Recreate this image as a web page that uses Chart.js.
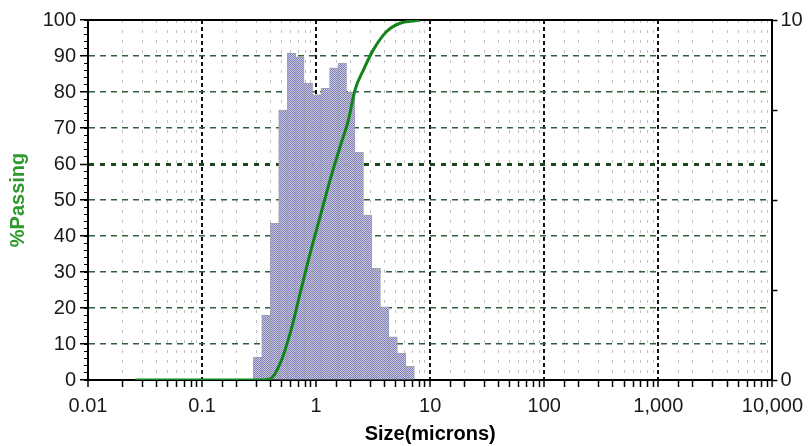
<!DOCTYPE html>
<html>
<head>
<meta charset="utf-8">
<script src="https://cdn.jsdelivr.net/npm/chart.js@4.4.1/dist/chart.umd.min.js"></script>
<style>
  html, body { margin: 0; padding: 0; background: #ffffff; }
  #wrap { width: 810px; height: 446px; }
</style>
</head>
<body>
<div id="wrap"><canvas id="c" width="810" height="446"></canvas></div>
<script>
// ---- data ----
// histogram bin centres (microns) and channel percent (right axis, 0-10)
const binSize = [0.306, 0.363, 0.431, 0.511, 0.607, 0.720, 0.855, 1.014, 1.204, 1.428,
                 1.695, 2.012, 2.387, 2.833, 3.362, 3.989, 4.734, 5.618, 6.667];
const channelPct = [0.64, 1.80, 4.36, 7.50, 9.08, 8.98, 8.25, 7.93, 8.10, 8.67,
                    8.80, 8.00, 6.33, 4.58, 3.10, 2.03, 1.20, 0.74, 0.38];
// cumulative % passing curve
const curveSize = [0.026, 0.1, 0.3, 0.396, 0.484, 0.592, 0.724, 0.886, 1.084, 1.326,
                   1.622, 1.918, 2.193, 2.594, 3.17, 4.15, 5.43, 7.35, 8.1];
const curvePassing = [0, 0, 0, 0.3, 4.6, 13.0, 24.1, 35.2, 45.4, 55.6,
                      64.8, 72.2, 80.6, 86.1, 91.7, 96.8, 99.1, 99.8, 100];
// axis tick settings
const xMin = 0.01, xMax = 10000;
const yLeftMax = 100, yLeftStep = 10, yLeftMinorStep = 2;
const yRightMax = 10, yRightStep = 2.5;
const rightLabels = [0, 10];

// ---- helpers ----
function isDecade(v) {
  if (!(v > 0)) return false;
  const l = Math.log10(v);
  return Math.abs(l - Math.round(l)) < 1e-6;
}
function fmtX(v) {
  if (!isDecade(v)) return '';
  return v >= 1000 ? Math.round(v).toLocaleString('en-US') : String(v);
}
function tickVal(ctx) { return ctx && ctx.tick ? ctx.tick.value : null; }

// checkered fill like the reference bars
const pc = document.createElement('canvas');
pc.width = 2; pc.height = 2;
const pctx = pc.getContext('2d');
pctx.fillStyle = '#cacadc'; pctx.fillRect(0, 0, 2, 2);
pctx.fillStyle = '#7e7ebc'; pctx.fillRect(0, 0, 1, 1); pctx.fillRect(1, 1, 1, 1);
const barPattern = pctx.createPattern(pc, 'repeat');

const FONT = 'Liberation Sans, Arial, sans-serif';

new Chart(document.getElementById('c'), {
  type: 'bar',
  data: {
    datasets: [
      {
        type: 'line',
        label: '% Passing',
        data: curveSize.map((s, i) => ({ x: s, y: curvePassing[i] })),
        xAxisID: 'x',
        yAxisID: 'y',
        borderColor: '#12841a',
        borderWidth: 3,
        pointRadius: 0,
        cubicInterpolationMode: 'monotone',
        fill: false,
        order: 0
      },
      {
        type: 'bar',
        label: 'Channel %',
        data: binSize.map((s, i) => ({ x: s, y: channelPct[i] })),
        xAxisID: 'x',
        yAxisID: 'y2',
        backgroundColor: barPattern,
        borderColor: '#a0a0b4',
        borderWidth: 1,
        borderSkipped: 'bottom',
        barThickness: 'flex',
        barPercentage: 1,
        categoryPercentage: 1,
        order: 1
      }
    ]
  },
  options: {
    responsive: false,
    maintainAspectRatio: false,
    devicePixelRatio: 1,
    animation: false,
    layout: { padding: { top: 20, left: 0, right: 0, bottom: 0 } },
    plugins: { legend: { display: false }, tooltip: { enabled: false } },
    scales: {
      x: {
        type: 'logarithmic',
        position: 'bottom',
        min: xMin,
        max: xMax,
        offset: false,
        afterFit: s => { s.height = 66; },
        ticks: {
          autoSkip: false,
          maxRotation: 0,
          callback: v => fmtX(v),
          font: { family: FONT, size: 20 },
          color: '#1a1a1a',
          padding: 7
        },
        grid: {
          offset: false,
          color: ctx => {
            const v = tickVal(ctx);
            if (v === null) return '#000';
            if (Math.abs(v - xMin) < 1e-9 || Math.abs(v - xMax) < 1e-6) return 'rgba(0,0,0,0)';
            return isDecade(v) ? '#111111' : 'rgba(150,150,150,0.6)';
          },
          lineWidth: ctx => (isDecade(tickVal(ctx)) ? 2 : 1),
          tickColor: '#000',
          tickWidth: 1.5,
          tickLength: 7
        },
        border: {
          color: '#000',
          width: 2,
          dash: ctx => {
            const v = tickVal(ctx);
            if (v === null) return [];
            return isDecade(v) ? [4, 3] : [3, 7];
          }
        },
        title: {
          display: true,
          text: 'Size(microns)',
          color: '#000',
          font: { family: FONT, size: 20, weight: 'bold' },
          padding: { top: 0, bottom: 0 }
        }
      },
      xTop: {
        type: 'linear',
        position: 'top',
        display: true,
        afterFit: s => { s.height = 0; },
        ticks: { display: false },
        grid: { drawOnChartArea: false, drawTicks: false },
        border: { color: '#000', width: 2 }
      },
      y: {
        position: 'left',
        weight: 1,
        min: 0,
        max: yLeftMax,
        afterFit: s => { s.width = 88; },
        ticks: {
          stepSize: yLeftStep,
          font: { family: FONT, size: 20 },
          color: '#1a1a1a',
          padding: 4
        },
        grid: {
          color: ctx => {
            const v = tickVal(ctx);
            if (v === null) return '#000';
            if (v === 0 || v === yLeftMax) return 'rgba(0,0,0,0)';
            return v === 60 ? '#1b471b' : '#335f3e';
          },
          lineWidth: ctx => (tickVal(ctx) === 60 ? 3 : 1.5),
          tickColor: '#000',
          tickWidth: 1.5,
          tickLength: 8
        },
        border: {
          color: '#000',
          width: 2,
          dash: ctx => {
            const v = tickVal(ctx);
            if (v === null) return [];
            return v === 60 ? [5, 6] : [6, 5];
          }
        },
        title: {
          display: true,
          text: '%Passing',
          color: '#2e9a2e',
          font: { family: FONT, size: 20, weight: 'bold' },
          padding: { top: 6, bottom: 0 }
        }
      },
      yMinor: {
        position: 'left',
        weight: 0,
        min: 0,
        max: yLeftMax,
        afterFit: s => { s.width = 0; },
        ticks: { stepSize: yLeftMinorStep, display: false },
        grid: { drawOnChartArea: false, tickLength: 4, tickColor: '#000', tickWidth: 1 },
        border: { display: false }
      },
      y2: {
        position: 'right',
        min: 0,
        max: yRightMax,
        afterFit: s => { s.width = 36; },
        ticks: {
          stepSize: yRightStep,
          callback: v => (rightLabels.includes(v) ? String(v) : ''),
          font: { family: FONT, size: 20 },
          color: '#1a1a1a',
          padding: 3
        },
        grid: { drawOnChartArea: false, tickLength: 5, tickColor: '#000', tickWidth: 1.5 },
        border: { color: '#000', width: 2 }
      }
    }
  }
});
</script>
</body>
</html>
